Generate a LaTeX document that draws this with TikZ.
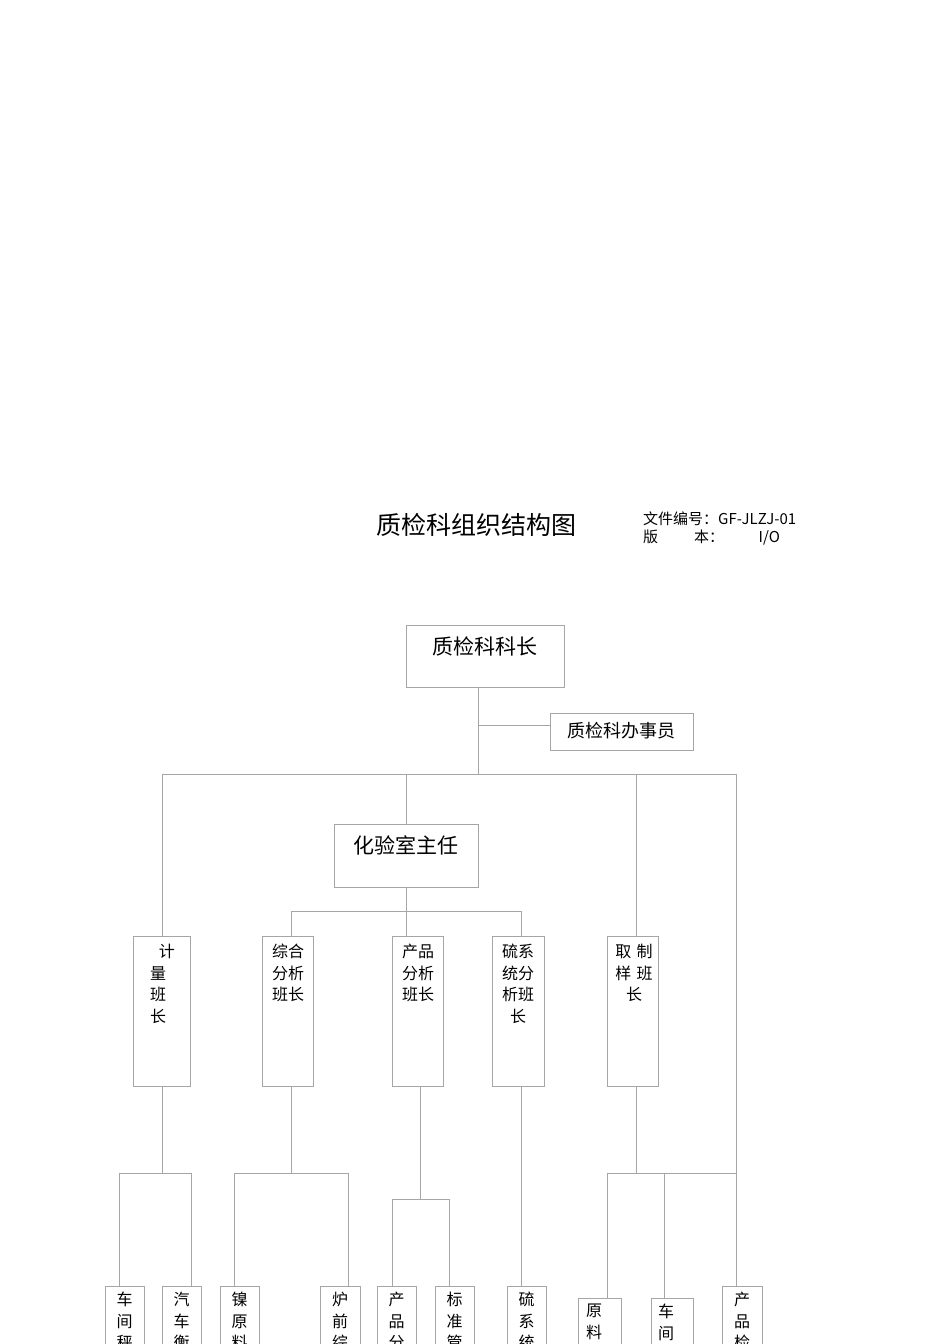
\documentclass[tikz,border=0pt]{standalone}
\usepackage{fontspec}
\setmainfont{Noto Sans CJK SC}
\begin{document}
\begin{tikzpicture}[x=1pt,y=-1pt,
  ln/.style={draw=black!35,line width=0.7pt},
  bx/.style={draw=black!35,line width=0.7pt,fill=white},
  tx/.style={font=\fontsize{16}{20}\selectfont,align=center,inner sep=0pt},
  st/.style={font=\fontsize{16}{21.5}\selectfont,align=center,inner sep=0pt,anchor=north}]
\useasboundingbox (0,0) rectangle (950,1344);
\begin{scope}
\clip (0,0) rectangle (950,1344);
% title
\node[inner sep=0pt,font=\fontsize{25}{27}\selectfont] (title) at (476,525) {质检科组织结构图};
\node[inner sep=0pt,anchor=west,font=\fontsize{15}{16}\selectfont] (doc1) at (643,519) {文件编号：GF-JLZJ-01};
\node[inner sep=0pt,anchor=west,font=\fontsize{15}{16}\selectfont] (doc2) at (643,538) {版\hspace{2.4em}本：\hspace{2.3em}I/O};
% connectors
\draw[ln] (478,687) -- (478,774);
\draw[ln] (478,725) -- (550,725);
\draw[ln] (162,936) -- (162,774) -- (736,774) -- (736,1286);
\draw[ln] (406,774) -- (406,824);
\draw[ln] (636,774) -- (636,936);
\draw[ln] (406,887) -- (406,936);
\draw[ln] (291,936) -- (291,911) -- (521,911) -- (521,936);
\draw[ln] (162,1086) -- (162,1173);
\draw[ln] (119,1286) -- (119,1173) -- (191,1173) -- (191,1286);
\draw[ln] (291,1086) -- (291,1173);
\draw[ln] (234,1286) -- (234,1173) -- (348,1173) -- (348,1286);
\draw[ln] (420,1086) -- (420,1199);
\draw[ln] (392,1286) -- (392,1199) -- (449,1199) -- (449,1286);
\draw[ln] (521,1086) -- (521,1286);
\draw[ln] (636,1086) -- (636,1173);
\draw[ln] (607,1298) -- (607,1173) -- (736,1173);
\draw[ln] (664,1173) -- (664,1298);
% top boxes
\draw[bx] (406,625) rectangle (564,687);
\node[tx,font=\fontsize{21}{24}\selectfont] (chief) at (485,646) {质检科科长};
\draw[bx] (550,713) rectangle (693,750);
\node[tx,font=\fontsize{18}{20}\selectfont] (clerk) at (621,731) {质检科办事员};
\draw[bx] (334,824) rectangle (478,887);
\node[tx,font=\fontsize{21}{24}\selectfont] (lab) at (406,845) {化验室主任};
% middle boxes
\draw[bx] (133,936) rectangle (190,1086);
\node[st] (m1) at (158,944) {\hspace{1.1em}计\\量\\班\\长};
\draw[bx] (262,936) rectangle (313,1086);
\node[st] (m2) at (288,944) {综合\\分析\\班长};
\draw[bx] (392,936) rectangle (443,1086);
\node[st] (m3) at (418,944) {产品\\分析\\班长};
\draw[bx] (492,936) rectangle (544,1086);
\node[st] (m4) at (518,944) {硫系\\统分\\析班\\长};
\draw[bx] (607,936) rectangle (658,1086);
\node[st] (m5) at (634,944) {取\,\,制\\样\,\,班\\长};
% bottom boxes
\draw[bx] (105,1286) rectangle (144,1400);
\node[st] (b1) at (124.5,1292) {车\\间\\秤};
\draw[bx] (162,1286) rectangle (201,1400);
\node[st] (b2) at (181.5,1292) {汽\\车\\衡};
\draw[bx] (220,1286) rectangle (259,1400);
\node[st] (b3) at (239.5,1292) {镍\\原\\料};
\draw[bx] (320,1286) rectangle (360,1400);
\node[st] (b4) at (340,1292) {炉\\前\\综};
\draw[bx] (377,1286) rectangle (416,1400);
\node[st] (b5) at (396.5,1292) {产\\品\\分};
\draw[bx] (435,1286) rectangle (474,1400);
\node[st] (b6) at (454.5,1292) {标\\准\\管};
\draw[bx] (507,1286) rectangle (546,1400);
\node[st] (b7) at (526.5,1292) {硫\\系\\统};
\draw[bx] (578,1298) rectangle (621,1400);
\node[st] (b8) at (594,1304) {原\\料};
\draw[bx] (651,1298) rectangle (693,1400);
\node[st] (b9) at (666,1304) {车\\间};
\draw[bx] (722,1286) rectangle (762,1400);
\node[st] (b10) at (742,1292) {产\\品\\检};
\end{scope}
\end{tikzpicture}
\end{document}
